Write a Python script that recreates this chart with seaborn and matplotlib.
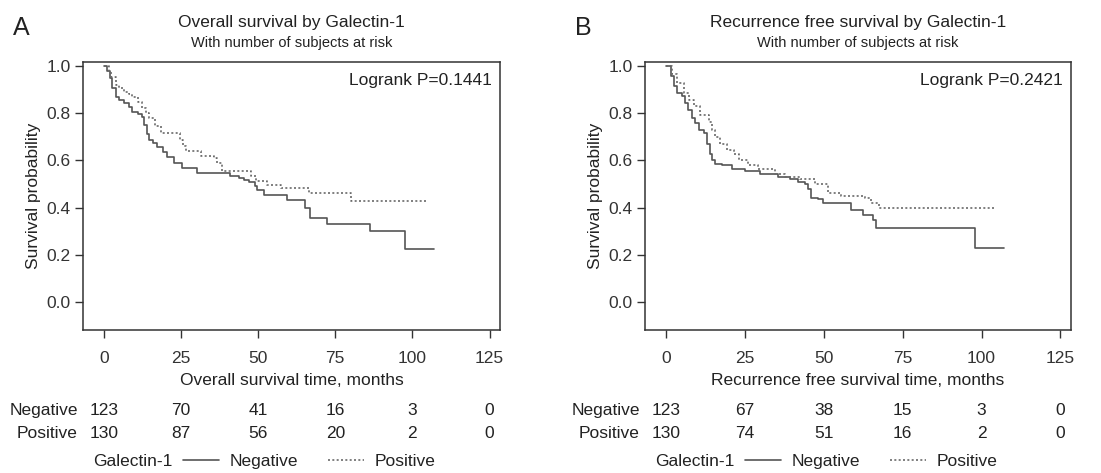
import numpy as np
import pandas as pd
import matplotlib
matplotlib.use("Agg")
import matplotlib.pyplot as plt
import matplotlib.transforms as mtransforms
from matplotlib.lines import Line2D
import seaborn as sns

# ---------------- data ----------------
A_neg_time = [0, 1, 2, 2.5, 3.8, 5, 6.5, 8, 9.2, 11, 12.4, 13, 13.8, 14.6, 16, 17.3, 19, 20.5, 22.7, 25.4,
              30, 41, 43.8, 45.5, 47, 49, 49.7, 51.8, 59.4, 65.3, 66.9, 72.3, 86.4, 97.6, 106.9]
A_neg_surv = [1.0, 0.976, 0.95, 0.905, 0.87, 0.855, 0.842, 0.825, 0.806, 0.795, 0.785, 0.75, 0.71, 0.686, 0.672,
              0.658, 0.637, 0.616, 0.588, 0.566, 0.545, 0.533, 0.524, 0.517, 0.51, 0.49, 0.475, 0.453, 0.432,
              0.397, 0.355, 0.33, 0.302, 0.225, 0.225]
A_pos_time = [0, 1.5, 2.2, 3.8, 5, 6.5, 8, 9.2, 11, 12.4, 13.5, 14.6, 16.7, 18.4, 24.8, 25.5, 26.5, 31.4,
              35.7, 36.8, 38.4, 47.6, 49.2, 53, 57.4, 66.6, 80.1, 105]
A_pos_surv = [1.0, 0.975, 0.954, 0.919, 0.905, 0.891, 0.88, 0.87, 0.845, 0.821, 0.8, 0.779, 0.744, 0.716,
              0.688, 0.66, 0.638, 0.617, 0.61, 0.589, 0.556, 0.533, 0.512, 0.498, 0.484, 0.463, 0.428, 0.428]

B_neg_time = [0, 1.3, 2.3, 3.4, 5, 6, 7, 8.1, 9.2, 10.2, 11.8, 12.9, 13.9, 14.4, 15.5, 17.6, 20.8, 25, 29.7,
              35.5, 39.2, 41.8, 43.9, 45, 46, 48.2, 49.7, 58.7, 62.4, 65.5, 66.6, 97.9, 107]
B_neg_surv = [1.0, 0.957, 0.914, 0.886, 0.871, 0.843, 0.814, 0.779, 0.757, 0.729, 0.714, 0.671, 0.629, 0.6,
              0.586, 0.579, 0.564, 0.557, 0.543, 0.529, 0.521, 0.507, 0.5, 0.479, 0.443, 0.436, 0.421, 0.389,
              0.371, 0.35, 0.314, 0.231, 0.231]
B_pos_time = [0, 1.8, 3.4, 5.5, 7.1, 8.6, 10.7, 13.4, 14.4, 15.5, 17.1, 19.2, 21.3, 22.9, 26, 29.2, 34.5,
              37.6, 42.4, 47.1, 51.3, 55.5, 62.9, 65, 67.6, 104.5]
B_pos_surv = [1.0, 0.964, 0.929, 0.886, 0.857, 0.829, 0.793, 0.764, 0.729, 0.7, 0.671, 0.643, 0.629, 0.6,
              0.579, 0.564, 0.543, 0.529, 0.521, 0.5, 0.464, 0.45, 0.443, 0.421, 0.4, 0.4]

risk_times = [0, 25, 50, 75, 100, 125]
A_neg_risk = [123, 70, 41, 16, 3, 0]
A_pos_risk = [130, 87, 56, 20, 2, 0]
B_neg_risk = [123, 67, 38, 15, 3, 0]
B_pos_risk = [130, 74, 51, 16, 2, 0]

groups = ["Negative", "Positive"]
y_ticks = [0.0, 0.2, 0.4, 0.6, 0.8, 1.0]

panels = [
    dict(letter="A", title="Overall survival by Galectin-1", pval="Logrank P=0.1441",
         xlabel="Overall survival time, months",
         neg=(A_neg_time, A_neg_surv), pos=(A_pos_time, A_pos_surv),
         risk=(A_neg_risk, A_pos_risk)),
    dict(letter="B", title="Recurrence free survival by Galectin-1", pval="Logrank P=0.2421",
         xlabel="Recurrence free survival time, months",
         neg=(B_neg_time, B_neg_surv), pos=(B_pos_time, B_pos_surv),
         risk=(B_neg_risk, B_pos_risk)),
]

# ---------------- style ----------------
sns.set_theme(style="white")
plt.rcParams["font.family"] = ["Liberation Sans", "DejaVu Sans"]
TXT = "#222222"
plt.rcParams.update({"text.color": TXT, "axes.labelcolor": TXT,
                     "xtick.color": "#333333", "ytick.color": "#333333"})

W, H = 1101, 473
fig = plt.figure(figsize=(W / 100, H / 100), dpi=100)

def fx(px):
    return px / W

def fy(py):
    return 1 - py / H

boxes = [(83, 500), (645, 1071)]
top_px, bot_px = 62, 330
palette = {"Negative": "#555555", "Positive": "#6a6a6a"}
dashes = {"Negative": "", "Positive": (1.2, 1.4)}

for p, (l, r) in zip(panels, boxes):
    ax = fig.add_axes([fx(l), fy(bot_px), fx(r) - fx(l), fy(top_px) - fy(bot_px)])
    df = pd.concat([
        pd.DataFrame({"time": p["neg"][0], "surv": p["neg"][1], "group": "Negative"}),
        pd.DataFrame({"time": p["pos"][0], "surv": p["pos"][1], "group": "Positive"}),
    ])
    sns.lineplot(data=df, x="time", y="surv", hue="group", style="group",
                 palette=palette, dashes=dashes, estimator=None, sort=True,
                 drawstyle="steps-post", linewidth=1.2, legend=False, ax=ax)
    ax.set_xlim(-6.8, 128.4)
    ax.set_ylim(-0.117, 1.016)
    ax.set_xticks(risk_times)
    ax.set_yticks(y_ticks)
    ax.set_yticklabels([f"{v:.1f}" for v in y_ticks])
    ax.tick_params(axis="both", direction="out", length=6, width=1.0, labelsize=12.5,
                   bottom=True, left=True)
    ax.tick_params(axis="x", pad=9)
    ax.tick_params(axis="y", pad=3)
    for s in ax.spines.values():
        s.set_visible(True)
        s.set_color("#333333")
        s.set_linewidth(1.1)
    ax.set_xlabel(p["xlabel"], fontsize=12.5, labelpad=5.5)
    ax.set_ylabel("Survival probability", fontsize=12.5, labelpad=4)
    ax.text(0.98, 0.93, p["pval"], transform=ax.transAxes, ha="right", va="center", fontsize=12.5)

    cx = (l + r) / 2
    fig.text(fx(cx), fy(22), p["title"], ha="center", va="center", fontsize=12.5)
    fig.text(fx(cx), fy(43), "With number of subjects at risk", ha="center", va="center", fontsize=10.5)
    fig.text(fx(l - 62), fy(28), p["letter"], ha="center", va="center", fontsize=18)

    # risk table
    trans = mtransforms.blended_transform_factory(ax.transData, fig.transFigure)
    for row, (name, vals) in enumerate(zip(groups, p["risk"])):
        yy = fy(410 + row * 23)
        fig.text(fx(l - 5), yy, name, ha="right", va="center", fontsize=12.5)
        for t, v in zip(risk_times, vals):
            ax.text(t, yy, str(v), transform=trans, ha="center", va="center", fontsize=12.5,
                    clip_on=False)

    # legend
    handles = [Line2D([], [], color=palette[g], linewidth=1.2,
                      linestyle="-" if g == "Negative" else (0, (1.2, 1.4))) for g in groups]
    fig.text(fx(l + 90), fy(461), "Galectin-1", ha="right", va="center", fontsize=12.5)
    fig.legend(handles, groups, loc="center left", bbox_to_anchor=(fx(l + 100), fy(461)),
               ncol=2, frameon=False, fontsize=12.5, handlelength=2.1, handletextpad=0.6,
               columnspacing=1.7, borderpad=0, borderaxespad=0)

fig.savefig("out.png", dpi=100)
